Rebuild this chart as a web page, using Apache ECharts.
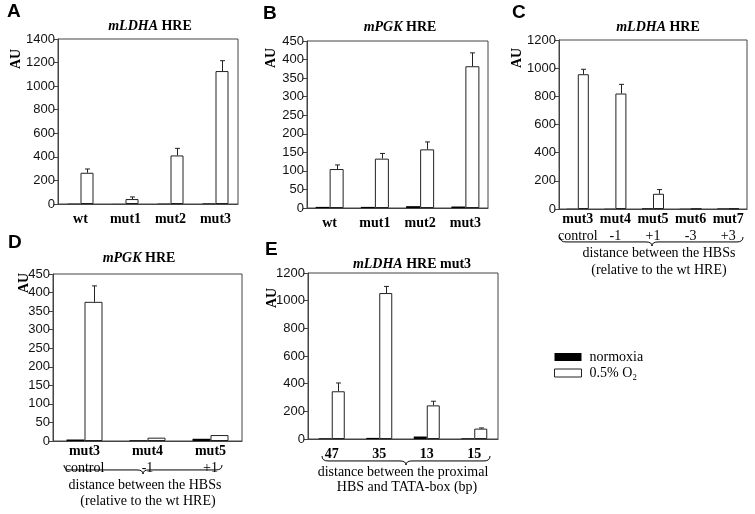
<!DOCTYPE html>
<html><head><meta charset="utf-8">
<script src="https://cdn.jsdelivr.net/npm/echarts@6/dist/echarts.min.js"></script>
<style>html,body{margin:0;padding:0;background:#fff}#c{width:755px;height:514px}</style>
</head><body><div id="c"></div>
<script>
// ---------- DATA ----------
// Panel A : mLDHA HRE
const catsA = ['wt', 'mut1', 'mut2', 'mut3'];
const normA = [3, 1, 3, 5];
const hypoA = [265, 42, 412, 1128];
const errA  = [32, 18, 60, 88];
const yMaxA = 1400, yStepA = 200;
// Panel B : mPGK HRE
const catsB = ['wt', 'mut1', 'mut2', 'mut3'];
const normB = [3, 3, 5, 4];
const hypoB = [105, 133, 158, 382];
const errB  = [11, 14, 20, 36];
const yMaxB = 450, yStepB = 50;
// Panel C : mLDHA HRE
const catsC = ['mut3', 'mut4', 'mut5', 'mut6', 'mut7'];
const subC  = ['control', '-1', '+1', '-3', '+3'];
const normC = [2, 2, 5, 2, 4];
const hypoC = [957, 820, 108, 2, 5];
const errC  = [35, 65, 30, 0, 0];
const yMaxC = 1200, yStepC = 200;
// Panel D : mPGK HRE
const catsD = ['mut3', 'mut4', 'mut5'];
const subD  = ['control', '-1', '+1'];
const normD = [4, 2, 6];
const hypoD = [375, 9, 16];
const errD  = [43, 0, 0];
const yMaxD = 450, yStepD = 50;
// Panel E : mLDHA HRE mut3
const catsE = ['47', '35', '13', '15'];
const normE = [5, 8, 18, 5];
const hypoE = [345, 1055, 243, 75];
const errE  = [60, 48, 30, 5];
const yMaxE = 1200, yStepE = 200;

const seriesNames = ['normoxia', '0.5% O\u2082'];

// ---------- LAYOUT ----------
const SERIF = 'Liberation Serif', SANS = 'Liberation Sans';
const panels = [
  {cats: catsA, norm: normA, hypo: hypoA, err: errA, max: yMaxA, step: yStepA, sub: null,
   grid: {left: 58, top: 39, width: 180, height: 165}, bw: 13},
  {cats: catsB, norm: normB, hypo: hypoB, err: errB, max: yMaxB, step: yStepB, sub: null,
   grid: {left: 307, top: 41, width: 181, height: 167}, bw: 14},
  {cats: catsC, norm: normC, hypo: hypoC, err: errC, max: yMaxC, step: yStepC, sub: subC,
   grid: {left: 559, top: 40, width: 188, height: 169}, bw: 11},
  {cats: catsD, norm: normD, hypo: hypoD, err: errD, max: yMaxD, step: yStepD, sub: subD,
   grid: {left: 53, top: 274, width: 189, height: 167}, bw: 18},
  {cats: catsE, norm: normE, hypo: hypoE, err: errE, max: yMaxE, step: yStepE, sub: null,
   grid: {left: 308, top: 273, width: 190, height: 166}, bw: 13}
];

const grids = [], xAxes = [], yAxes = [], series = [];
panels.forEach((p, k) => {
  grids.push(Object.assign({show: true, borderColor: '#444', borderWidth: 1, containLabel: false, outerBoundsMode: 'none'}, p.grid));
  xAxes.push({
    type: 'category', gridIndex: k, data: p.cats,
    axisLine: {lineStyle: {color: '#444', width: 1}},
    axisTick: {show: false},
    axisLabel: {
      interval: 0, margin: p.sub ? 2 : 7, color: '#000',
      formatter: (v, i) => p.sub ? '{b|' + v + '}\n{n|' + p.sub[i] + '}' : '{b|' + v + '}',
      rich: {
        b: {fontFamily: SERIF, fontWeight: 'bold', fontSize: 14, color: '#000', lineHeight: 17},
        n: {fontFamily: SERIF, fontSize: 14, color: '#000', lineHeight: 17}
      }
    }
  });
  yAxes.push({
    type: 'value', gridIndex: k, min: 0, max: p.max, interval: p.step,
    axisLine: {show: true, lineStyle: {color: '#444', width: 1}},
    axisTick: {show: true, length: 4, lineStyle: {color: '#444'}},
    splitLine: {show: false},
    axisLabel: {fontFamily: SANS, fontSize: 13, color: '#111', margin: 3, formatter: v => String(v)}
  });
  series.push({
    type: 'bar', name: seriesNames[0], xAxisIndex: k, yAxisIndex: k, data: p.norm,
    barWidth: p.bw, barGap: 0, itemStyle: {color: '#000'}, silent: true
  });
  series.push({
    type: 'bar', name: seriesNames[1], xAxisIndex: k, yAxisIndex: k, data: p.hypo,
    barWidth: p.bw, barGap: 0, itemStyle: {color: '#fff', borderColor: '#222', borderWidth: 1}, silent: true
  });
  const off = p.bw / 2;
  series.push({
    type: 'custom', name: 'err', xAxisIndex: k, yAxisIndex: k, silent: true, z: 5,
    data: p.hypo.map((v, i) => [i, v, p.err[i]]),
    renderItem: (params, api) => {
      const i = api.value(0), v = api.value(1), e = api.value(2);
      if (!e) return null;
      const p0 = api.coord([i, v]), p1 = api.coord([i, v + e]);
      const x = Math.round(p0[0] + off) + 0.5;
      return {type: 'group', children: [
        {type: 'line', shape: {x1: x, y1: p0[1], x2: x, y2: p1[1]}, style: {stroke: '#222', lineWidth: 1}},
        {type: 'line', shape: {x1: x - 2.5, y1: p1[1], x2: x + 2.5, y2: p1[1]}, style: {stroke: '#222', lineWidth: 1}}
      ]};
    }
  });
});

// ---------- DECORATIONS ----------
function txt(x, y, text, opts) {
  return {type: 'text', silent: true, x: x, y: y, rotation: (opts && opts.rot) || 0,
    style: Object.assign({text: text, x: 0, y: 0, align: 'center', verticalAlign: 'middle', fill: '#000',
      font: '14px "' + SERIF + '"'}, (opts && opts.style) || {})};
}
const titleRich = {
  i: {fontFamily: SERIF, fontStyle: 'italic', fontWeight: 'bold', fontSize: 14, fill: '#000'},
  r: {fontFamily: SERIF, fontWeight: 'bold', fontSize: 14, fill: '#000'}
};
function title(x, y, it, rest) {
  return txt(x, y, '{i|' + it + '}{r| ' + rest + '}', {style: {rich: titleRich}});
}
function letter(x, y, t) {
  return txt(x, y, t, {style: {align: 'left', font: 'bold 19px "' + SANS + '"'}});
}
function au(x, y) {
  return txt(x, y, 'AU', {rot: Math.PI / 2, style: {font: 'bold 14px "' + SERIF + '"'}});
}
function brace(x1, x2, xm, y0, h) {
  const y1 = y0 + h * 0.55, y2 = y0 + h, r = 6;
  const st = {fill: null, stroke: '#000', lineWidth: 1};
  const bz = (a, b, c, d, e, f) => ({type: 'bezierCurve', silent: true,
    shape: {x1: a, y1: b, cpx1: c, cpy1: d, x2: e, y2: f}, style: st});
  const ln = (a, b, c, d) => ({type: 'line', silent: true, shape: {x1: a, y1: b, x2: c, y2: d}, style: st});
  return {type: 'group', silent: true, children: [
    bz(x1, y0, x1, y1, x1 + r, y1),
    ln(x1 + r, y1, xm - r, y1),
    bz(xm - r, y1, xm, y1, xm, y2),
    bz(xm, y2, xm, y1, xm + r, y1),
    ln(xm + r, y1, x2 - r, y1),
    bz(x2 - r, y1, x2, y1, x2, y0)
  ]};
}

const graphics = [
  letter(7, 12, 'A'), letter(263, 14, 'B'), letter(512, 13, 'C'), letter(8, 243, 'D'), letter(265, 250, 'E'),
  title(150, 26, 'mLDHA', 'HRE'), title(400, 27, 'mPGK', 'HRE'), title(658, 27, 'mLDHA', 'HRE'),
  title(139, 258, 'mPGK', 'HRE'), title(412, 264, 'mLDHA', 'HRE mut3'),
  au(16, 59), au(271, 58), au(517, 58), au(24, 283), au(272, 298),
  brace(560, 743, 652, 237, 9), brace(64, 222, 143, 465, 9), brace(322, 490, 406, 456, 9),
  txt(659, 253, 'distance between the HBSs'), txt(659, 270, '(relative to the wt HRE)'),
  txt(145, 485, 'distance between the HBSs'), txt(148, 501, '(relative to the wt HRE)'),
  txt(403, 472, 'distance between the proximal'), txt(407, 487, 'HBS and TATA-box (bp)')
];

const chart = echarts.init(document.getElementById('c'), null, {renderer: 'canvas'});
chart.setOption({
  animation: false,
  backgroundColor: '#fff',
  grid: grids, xAxis: xAxes, yAxis: yAxes, series: series,
  legend: {
    left: 554, top: 350, padding: 0, orient: 'vertical', itemWidth: 27, itemHeight: 8, itemGap: 2,
    selectedMode: false, icon: 'rect',
    data: [
      {name: seriesNames[0], itemStyle: {color: '#000'}},
      {name: seriesNames[1], itemStyle: {color: '#fff', borderColor: '#222', borderWidth: 1}}
    ],
    textStyle: {fontFamily: SERIF, fontSize: 14, color: '#000', padding: [0, 0, 0, 3]}
  },
  graphic: graphics
});
</script>
</body></html>
